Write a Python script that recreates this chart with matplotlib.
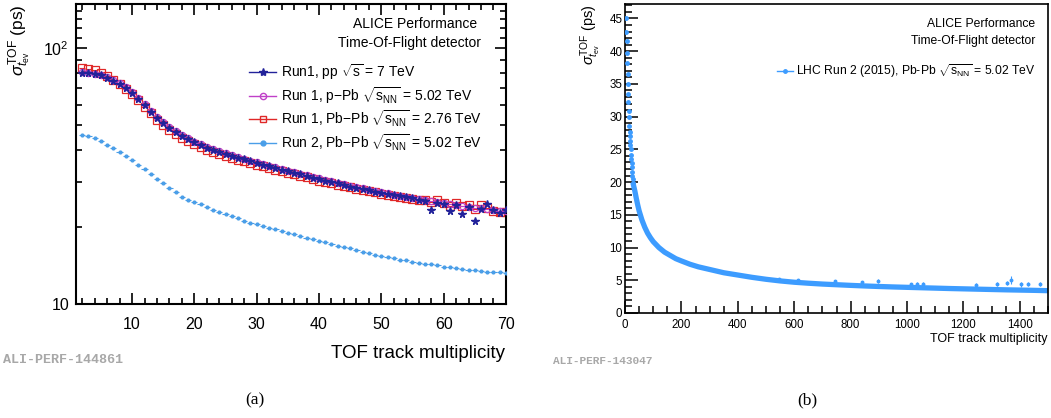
import matplotlib
matplotlib.use("Agg")
import matplotlib.pyplot as plt
from matplotlib.lines import Line2D
from matplotlib.ticker import MultipleLocator

plt.rcParams["font.family"] = ["Liberation Sans", "DejaVu Sans"]
plt.rcParams["mathtext.fontset"] = "custom"
plt.rcParams["mathtext.rm"] = "Liberation Sans"
plt.rcParams["mathtext.it"] = "Liberation Sans:italic"
plt.rcParams["mathtext.bf"] = "Liberation Sans:bold"

# ---- (a) time-zero resolution vs TOF multiplicity, log scale ----
mult_a = list(range(2, 71))
run1_pp = [80.3, 80.0, 79.2, 78.3, 76.8, 74.8, 72.4, 69.8, 66.8, 63.3,
           59.8, 56.4, 53.4, 50.9, 48.8, 46.9, 45.4, 44.1, 42.9, 41.9,
           40.9, 40.1, 39.4, 38.7, 38.0, 37.4, 36.8, 36.2, 35.6, 35.0,
           34.5, 34.0, 33.5, 33.0, 32.6, 32.2, 31.7, 31.2, 30.8, 30.4,
           30.0, 29.6, 29.2, 28.8, 28.5, 28.2, 27.9, 27.5, 27.2, 26.9,
           26.6, 26.4, 26.1, 25.9, 25.6, 25.2, 23.3, 24.9, 24.6, 23.2,
           24.3, 22.5, 23.9, 21.2, 23.5, 24.7, 23.4, 22.6, 23.3]
run1_ppb = [80.9, 80.4, 79.6, 78.7, 77.2, 75.3, 72.9, 70.3, 67.2, 63.8,
            60.3, 56.9, 53.9, 51.3, 49.2, 47.3, 45.7, 44.4, 43.2, 42.2,
            41.2, 40.4, 39.6, 38.9, 38.3, 37.6, 37.0, 36.4, 35.8, 35.3,
            34.7, 34.2, 33.7, 33.2, 32.8, 32.3, 31.9, 31.4, 31.0, 30.6,
            30.2, 29.8, 29.4, 29.0, 28.7, 28.3, 28.0, 27.7, 27.4, 27.1,
            26.8, 26.5, 26.3, 26.0, 25.8, 25.5, 25.3, 25.0, 24.8, 24.6,
            24.4, 24.2, 24.0, 23.8, 23.7, 23.5, 23.4, 23.2, 23.1]
run1_pbpb = [83.5, 83.2, 82.0, 80.2, 77.8, 75.4, 72.6, 69.6, 66.2, 62.6,
             59.0, 55.6, 52.6, 50.1, 48.0, 46.1, 44.6, 43.3, 42.1, 41.1,
             40.1, 39.3, 38.6, 37.9, 37.3, 36.7, 36.1, 35.6, 35.0, 34.5,
             34.0, 33.5, 33.0, 32.6, 32.1, 31.7, 31.3, 30.9, 30.4, 30.0,
             29.6, 29.3, 28.9, 28.6, 28.2, 27.9, 27.6, 27.3, 27.0, 26.7,
             26.5, 26.2, 26.0, 25.7, 25.5, 25.6, 25.0, 25.4, 24.8, 24.2,
             24.9, 24.1, 24.4, 23.6, 24.3, 23.8, 23.1, 22.9, 23.0]
run2_pbpb = [45.8, 45.3, 44.5, 43.3, 42.0, 40.7, 39.3, 38.0, 36.5, 35.0,
             33.6, 32.2, 30.9, 29.6, 28.4, 27.3, 26.3, 25.6, 25.0, 24.5,
             24.0, 23.4, 22.9, 22.4, 22.0, 21.6, 21.2, 20.8, 20.5, 20.2,
             19.9, 19.6, 19.3, 19.0, 18.7, 18.5, 18.2, 17.9, 17.6, 17.4,
             17.1, 16.9, 16.7, 16.5, 16.2, 16.0, 15.8, 15.6, 15.4, 15.3,
             15.1, 14.9, 14.8, 14.6, 14.5, 14.4, 14.3, 14.2, 14.0, 13.9,
             13.8, 13.7, 13.6, 13.55, 13.5, 13.4, 13.35, 13.3, 13.2]

labels_a = [r"Run1, pp $\sqrt{\mathrm{s}}$ = 7 TeV",
            r"Run 1, p$-$Pb $\sqrt{\mathrm{s}_{\mathrm{NN}}}$ = 5.02 TeV",
            r"Run 1, Pb$-$Pb $\sqrt{\mathrm{s}_{\mathrm{NN}}}$ = 2.76 TeV",
            r"Run 2, Pb$-$Pb $\sqrt{\mathrm{s}_{\mathrm{NN}}}$ = 5.02 TeV"]

# ---- (b) Run 2 Pb-Pb, linear scale, up to 1500 tracks ----
mult_b_low = list(range(4, 29))
sigma_b_low = [45.0, 42.9, 41.6, 39.7, 38.2, 36.5, 35.0, 33.5, 32.2, 30.8,
               30.0, 28.5, 27.7, 27.0, 26.3, 25.6, 25.0, 24.1, 23.6, 22.9,
               22.3, 21.6, 21.0, 20.5, 19.9]
mult_b = [28, 35, 40, 45, 50, 60, 70, 80, 90, 100, 120, 140, 160, 180, 200,
          230, 260, 300, 350, 400, 450, 500, 550, 600, 650, 700, 750, 800,
          850, 900, 950, 1000, 1050, 1100, 1150, 1200, 1250, 1300, 1350,
          1400, 1450, 1500]
sigma_b = [19.9, 18.6, 17.5, 16.5, 15.6, 14.2, 13.1, 12.2, 11.5, 10.9, 10.0,
           9.3, 8.8, 8.3, 7.95, 7.45, 7.05, 6.65, 6.15, 5.8, 5.45, 5.15, 4.9,
           4.7, 4.55, 4.42, 4.32, 4.22, 4.13, 4.05, 3.98, 3.92, 3.86, 3.8,
           3.74, 3.69, 3.64, 3.59, 3.54, 3.5, 3.46, 3.41]
spike_x = [545, 614, 743, 841, 898, 1013, 1037, 1058, 1244, 1318, 1354,
           1368, 1404, 1428, 1471]
spike_y = [5.25, 5.1, 4.9, 4.74, 4.94, 4.38, 4.45, 4.43, 4.28, 4.38, 4.53,
           5.05, 4.38, 4.38, 4.43]
spike_err = [0.15, 0.15, 0.2, 0.2, 0.3, 0.25, 0.25, 0.25, 0.3, 0.3, 0.3,
             0.55, 0.35, 0.3, 0.3]

c_pp = "#22229a"
c_ppb = "#c040c8"
c_pbpb = "#e02828"
c_run2 = "#4a9ee8"
c_b = "#3d9cff"

fig = plt.figure(figsize=(10.51, 4.18), dpi=100)

# panel (a)
axa = fig.add_axes([0.0723, 0.2727, 0.4091, 0.7177])
axa.errorbar(mult_a, run1_pbpb, xerr=0.5, fmt="s", ms=6, mfc="none",
             mec=c_pbpb, mew=0.9, ecolor=c_pbpb, elinewidth=0.8, zorder=2)
axa.errorbar(mult_a, run1_ppb, xerr=0.5, fmt="o", ms=4.5, mfc="none",
             mec=c_ppb, mew=0.9, ecolor=c_ppb, elinewidth=0.8, zorder=3)
axa.errorbar(mult_a, run1_pp, xerr=0.5, fmt="*", ms=5.5, color=c_pp,
             ecolor=c_pp, elinewidth=0.8, zorder=4)
axa.errorbar(mult_a, run2_pbpb, xerr=0.5, fmt="o", ms=2, color=c_run2,
             ecolor=c_run2, elinewidth=0.8, zorder=3)

axa.set_yscale("log")
axa.set_xlim(1, 70)
axa.set_ylim(10, 149)
axa.set_yticks([10, 100], ["10", r"$10^{2}$"])
axa.set_yticks([20, 30, 40, 50, 60, 70, 80, 90, 110, 120, 130, 140],
               minor=True)
axa.yaxis.set_minor_formatter(plt.NullFormatter())
axa.set_xticks([10, 20, 30, 40, 50, 60, 70])
axa.xaxis.set_minor_locator(MultipleLocator(2))
axa.tick_params(which="both", direction="in", top=True, right=True,
                width=1.2, labelsize=11.5)
axa.tick_params(which="major", length=8)
axa.tick_params(which="minor", length=4.5)
axa.tick_params(axis="x", pad=9)
axa.tick_params(axis="y", pad=5)
for sp in axa.spines.values():
    sp.set_linewidth(1.5)

axa.set_xlabel("TOF track multiplicity", fontsize=13.5, loc="right")
axa.xaxis.set_label_coords(0.998, -0.135)
axa.set_ylabel(r"$\sigma_{t_{\mathrm{ev}}}^{\mathrm{TOF}}$ (ps)",
               fontsize=12.5, loc="top")
axa.yaxis.set_label_coords(-0.1, 1.0)

axa.text(0.934, 0.933, "ALICE Performance", transform=axa.transAxes,
         ha="right", va="center", fontsize=10)
axa.text(0.942, 0.87, "Time-Of-Flight detector", transform=axa.transAxes,
         ha="right", va="center", fontsize=10)

handles_a = [
    Line2D([], [], color=c_pp, marker="*", ms=6, lw=1),
    Line2D([], [], color=c_ppb, marker="o", ms=4.5, mfc="none", lw=1),
    Line2D([], [], color=c_pbpb, marker="s", ms=4.5, mfc="none", lw=1),
    Line2D([], [], color=c_run2, marker="o", ms=3.5, lw=1),
]
axa.legend(handles_a, labels_a, loc="upper right",
           bbox_to_anchor=(0.945, 0.805), frameon=False, fontsize=10,
           handlelength=2.0, handletextpad=0.35, labelspacing=0.2,
           borderpad=0, borderaxespad=0)

# panel (b)
axb = fig.add_axes([0.5947, 0.2512, 0.4025, 0.7392])
axb.plot(mult_b, sigma_b, color=c_b, lw=3.8, solid_capstyle="butt",
         zorder=2)
axb.plot(mult_b_low, sigma_b_low, "o", ms=2.5, color=c_b, zorder=3)
axb.errorbar(spike_x, spike_y, yerr=spike_err, fmt="o", ms=1.8, color=c_b,
             elinewidth=0.8, zorder=3)

axb.set_xlim(0, 1500)
axb.set_ylim(0, 47.2)
axb.xaxis.set_major_locator(MultipleLocator(200))
axb.xaxis.set_minor_locator(MultipleLocator(50))
axb.yaxis.set_major_locator(MultipleLocator(5))
axb.yaxis.set_minor_locator(MultipleLocator(1))
axb.tick_params(which="both", direction="in", width=1.1, labelsize=8.3)
axb.tick_params(which="major", length=9)
axb.tick_params(which="minor", length=5)
axb.tick_params(axis="x", pad=4)
axb.tick_params(axis="y", pad=2)
for sp in axb.spines.values():
    sp.set_linewidth(1.2)

axb.set_xlabel("TOF track multiplicity", fontsize=9, loc="right")
axb.xaxis.set_label_coords(0.998, -0.066)
axb.set_ylabel(r"$\sigma_{t_{\mathrm{ev}}}^{\mathrm{TOF}}$ (ps)",
               fontsize=10.5, loc="top")
axb.yaxis.set_label_coords(-0.052, 1.0)

axb.text(0.969, 0.935, "ALICE Performance", transform=axb.transAxes,
         ha="right", va="center", fontsize=8.7)
axb.text(0.969, 0.88, "Time-Of-Flight detector", transform=axb.transAxes,
         ha="right", va="center", fontsize=8.7)
handles_b = [Line2D([], [], color=c_b, marker="o", ms=2.5, lw=1)]
axb.legend(handles_b,
           [r"LHC Run 2 (2015), Pb-Pb $\sqrt{\mathrm{s}_{\mathrm{NN}}}$ = 5.02 TeV"],
           loc="upper right", bbox_to_anchor=(0.971, 0.81), frameon=False,
           fontsize=8.7, handlelength=1.3, handletextpad=0.3, borderpad=0,
           borderaxespad=0)

# preliminary-figure IDs and panel captions
fig.text(3 / 1051, 1 - 360 / 418, "ALI-PERF-144861", family="Liberation Mono",
         weight="bold", color="#a8a8a8", fontsize=9.6, va="center")
fig.text(553 / 1051, 1 - 361 / 418, "ALI-PERF-143047",
         family="Liberation Mono", weight="bold", color="#a8a8a8",
         fontsize=8, va="center")
fig.text(255 / 1051, 1 - 400 / 418, "(a)", family="Liberation Serif",
         fontsize=12.5, ha="center", va="center")
fig.text(807 / 1051, 1 - 400 / 418, "(b)", family="Liberation Serif",
         fontsize=12.5, ha="center", va="center")

fig.savefig("out.png", dpi=100)
